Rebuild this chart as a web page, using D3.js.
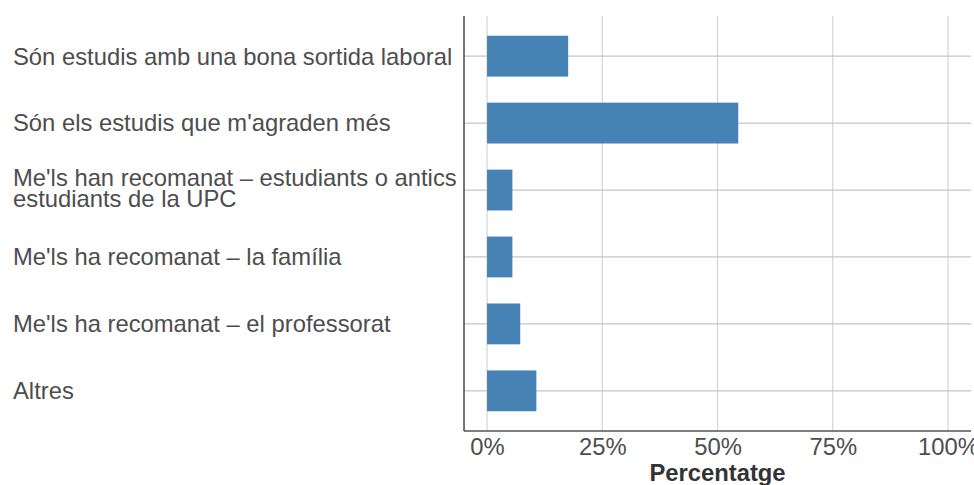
<!DOCTYPE html>
<html>
<head>
<meta charset="utf-8">
<script src="https://cdn.jsdelivr.net/npm/d3@7"></script>
<style>
  body { margin: 0; background: #fff; }
  svg { display: block; font-family: "Liberation Sans", Arial, sans-serif; }
</style>
</head>
<body>
<svg id="chart" width="974" height="485"></svg>
<script>
// categories (top to bottom) and their share
const categories = [
    ["Són estudis amb una bona sortida laboral"],
    ["Són els estudis que m'agraden més"],
    ["Me'ls han recomanat – estudiants o antics", "estudiants de la UPC"],
    ["Me'ls ha recomanat – la família"],
    ["Me'ls ha recomanat – el professorat"],
    ["Altres"]
];
const values = [0.176, 0.545, 0.055, 0.055, 0.072, 0.107];
const xTicks = [0, 0.25, 0.5, 0.75, 1];
const xTitle = "Percentatge";

const svg = d3.select('#chart');
const panel = { left: 464, right: 971, top: 16, bottom: 431 };
const fontSize = 23.8;

const keys = categories.map(d => d.join(' '));

const x = d3.scaleLinear()
    .domain([-0.05, 1.05])
    .range([panel.left, panel.right]);

const y = d3.scalePoint()
    .domain(keys)
    .range([panel.top, panel.bottom])
    .padding(0.6);

const barH = y.step() * 0.61;

// grid lines
svg.append('g')
    .selectAll('line')
    .data(xTicks)
    .join('line')
    .attr('x1', d => x(d)).attr('x2', d => x(d))
    .attr('y1', panel.top).attr('y2', panel.bottom)
    .attr('stroke', '#d4d4d4')
    .attr('stroke-width', 1.2);

svg.append('g')
    .selectAll('line')
    .data(keys)
    .join('line')
    .attr('x1', panel.left).attr('x2', panel.right)
    .attr('y1', d => y(d)).attr('y2', d => y(d))
    .attr('stroke', '#c6c6c6')
    .attr('stroke-width', 1.2);

// bars
svg.append('g')
    .selectAll('rect')
    .data(values)
    .join('rect')
    .attr('x', x(0))
    .attr('y', (d, i) => y(keys[i]) - barH / 2)
    .attr('width', d => x(d) - x(0))
    .attr('height', barH)
    .attr('fill', '#4682b4');

// x axis
const xAxis = d3.axisBottom(x)
    .tickValues(xTicks)
    .tickSize(0)
    .tickPadding(6)
    .tickFormat(d3.format('.0%'));

const gx = svg.append('g')
    .attr('transform', `translate(0, ${panel.bottom})`)
    .call(xAxis);
gx.select('.domain').remove();
gx.selectAll('text')
    .attr('y', 0)
    .attr('dy', null)
    .attr('transform', 'translate(0, 24)')
    .attr('font-size', fontSize)
    .attr('font-family', '"Liberation Sans", Arial, sans-serif')
    .attr('fill', '#4d4d4d');

// axis lines
svg.append('line')
    .attr('x1', panel.left).attr('x2', panel.right)
    .attr('y1', panel.bottom).attr('y2', panel.bottom)
    .attr('stroke', '#555').attr('stroke-width', 1.6);
svg.append('line')
    .attr('x1', panel.left).attr('x2', panel.left)
    .attr('y1', panel.top).attr('y2', panel.bottom)
    .attr('stroke', '#555').attr('stroke-width', 1.6);

// category labels
const lineH = 20.7;
const labels = svg.append('g')
    .selectAll('text')
    .data(categories)
    .join('text')
    .attr('x', 13)
    .attr('font-size', fontSize)
    .attr('fill', '#4d4d4d');

labels.each(function(lines, i) {
    const cy = y(keys[i]);
    const first = cy + 8.4 - (lines.length - 1) * lineH / 2 - (lines.length > 1 ? 2 : 0);
    d3.select(this).selectAll('tspan')
        .data(lines)
        .join('tspan')
        .attr('x', 13)
        .attr('y', (d, j) => first + j * lineH)
        .text(d => d);
});

// axis title
svg.append('text')
    .attr('x', (panel.left + panel.right) / 2)
    .attr('y', 481)
    .attr('text-anchor', 'middle')
    .attr('font-size', fontSize)
    .attr('font-weight', 'bold')
    .attr('fill', '#333')
    .text(xTitle);
</script>
</body>
</html>
